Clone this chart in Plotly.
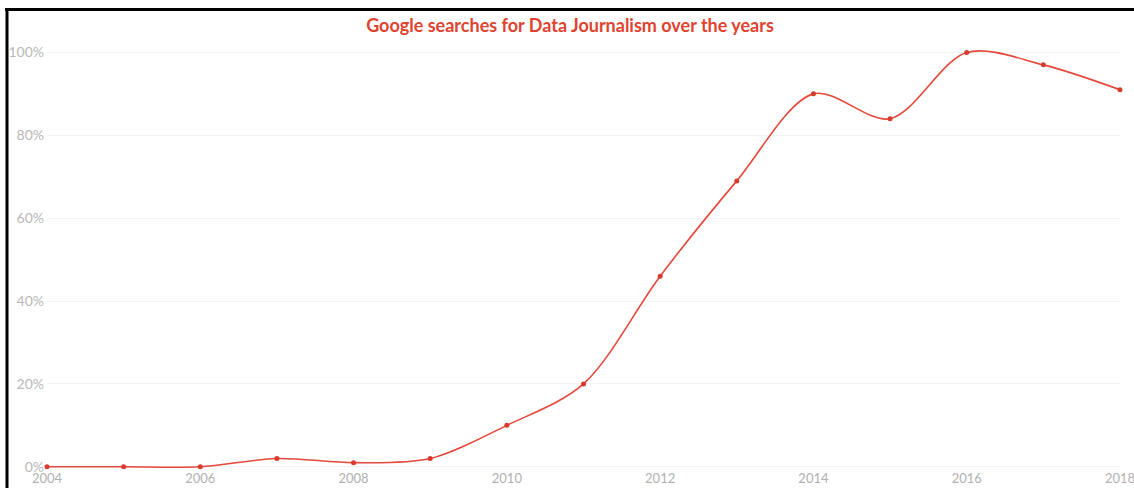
import plotly.graph_objects as go

years = list(range(2004, 2019))
interest = [0, 0, 0, 2, 1, 2, 10, 20, 46, 69, 90, 84, 100, 97, 91]
y_ticks = [0, 20, 40, 60, 80, 100]
y_tick_labels = ["0%", "20%", "40%", "60%", "80%", "100%"]
x_ticks = [2004, 2006, 2008, 2010, 2012, 2014, 2016, 2018]

W, H = 1134, 488
# pixel positions of value 0 and 100, and of x 2004 / 2018
Y0_PX, Y100_PX = 467, 52
X0_PX, X1_PX = 47, 1120
Y_LO, Y_HI = -1.5, 103
ppu = (Y0_PX - Y100_PX) / 100.0
T = Y100_PX - (Y_HI - 100) * ppu
B = H - Y0_PX - (0 - Y_LO) * ppu
L, R = X0_PX, W - X1_PX
pw, ph = W - L - R, H - T - B

def px(xp):
    return (xp - L) / pw

def py(yp):
    return (H - B - yp) / ph

red = "#e5473a"

fig = go.Figure()
fig.add_trace(go.Scatter(
    x=years, y=interest, mode="lines+markers",
    line=dict(color=red, width=1.6, shape="spline", smoothing=0.9),
    marker=dict(color="#d83a2c", size=5),
    cliponaxis=False, showlegend=False, hoverinfo="skip",
))

fig.update_layout(
    width=W, height=H,
    margin=dict(l=L, r=R, t=T, b=B, autoexpand=False),
    paper_bgcolor="white", plot_bgcolor="white",
    title=dict(text="<b>Google searches for Data Journalism over the years</b>",
               x=570 / W, xref="container", xanchor="center",
               y=1 - 26 / H, yanchor="middle",
               font=dict(family="Lato", size=18, color="#e0432f")),
    xaxis=dict(range=[2004, 2018], tickvals=x_ticks, showgrid=False,
               zeroline=False, showline=False, ticks="", automargin=False,
               ticklabeloverflow="allow", ticklabelstandoff=-4,
               tickfont=dict(family="Lato", size=13, color="#b0b0b0")),
    yaxis=dict(range=[Y_LO, Y_HI], tickvals=y_ticks, ticktext=y_tick_labels,
               showgrid=True, gridcolor="#f2f2f2", gridwidth=1,
               zeroline=False, showline=False, ticks="", ticklabelstandoff=2,
               automargin=False, ticklabeloverflow="allow",
               tickfont=dict(family="Lato", size=14, color="#b8b8b8")),
    shapes=[
        dict(type="line", xref="paper", yref="paper",
             x0=px(5), x1=px(W + 2), y0=py(9), y1=py(9),
             line=dict(color="black", width=3)),
        dict(type="line", xref="paper", yref="paper",
             x0=px(7), x1=px(7), y0=py(8), y1=py(H + 2),
             line=dict(color="black", width=3)),
    ],
)

fig.write_html("out.html", config={"displayModeBar": False},
               post_script="document.body.style.margin='0';document.body.style.overflow='hidden';")
